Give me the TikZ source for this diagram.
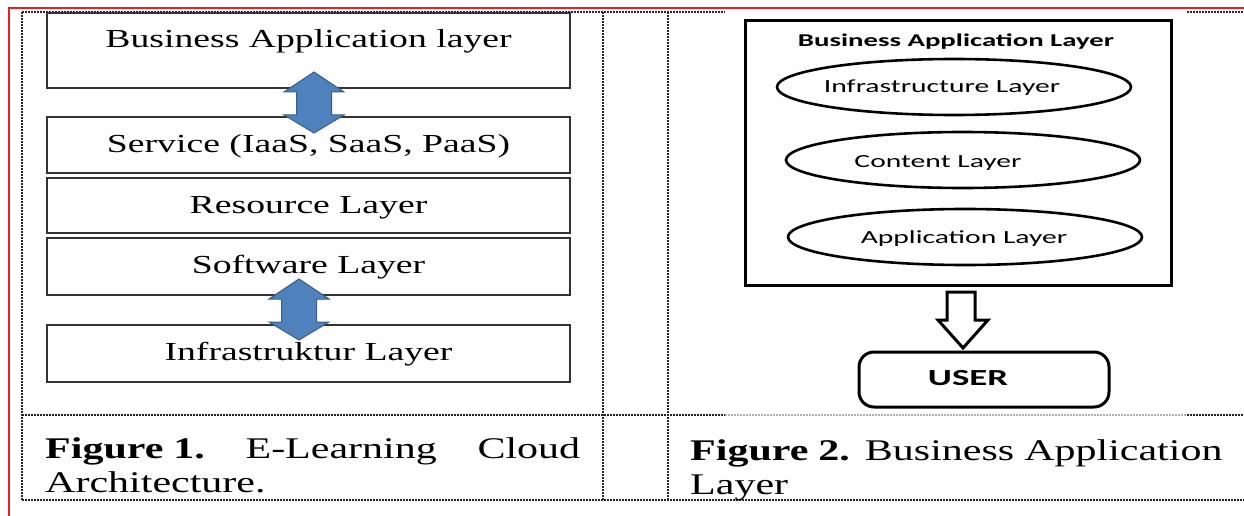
\documentclass[tikz,border=0pt]{standalone}
\usepackage{fontspec}
\setmainfont{Liberation Serif}
\newfontfamily\boxfont{Liberation Serif}[FakeStretch=1.45]
\newfontfamily\capfont{Liberation Serif}[FakeStretch=1.4]
\newfontfamily\sfont{Carlito}[FakeStretch=1.6]
\usetikzlibrary{shapes.geometric}
\definecolor{arrowblue}{RGB}{79,129,189}
\definecolor{arrowedge}{RGB}{56,93,138}
\definecolor{redline}{RGB}{237,28,36}
\begin{document}
\begin{tikzpicture}[x=1pt,y=-1pt,
  lbox/.style={draw=black!80, line width=2pt, minimum width=523pt, inner sep=0pt},
  ltext/.style={font=\boxfont\fontsize{26}{28}\selectfont, inner sep=0pt},
  gridline/.style={densely dotted, line width=2pt, black!85},
  blockarrow/.style={fill=arrowblue, draw=arrowedge, line width=1pt, line join=miter},
  ell/.style={ellipse, draw, line width=2.6pt, minimum width=354pt, minimum height=56pt, inner sep=0pt},
  stext/.style={font=\sfont\fontsize{18.5}{20}\selectfont, inner sep=0pt},
  captext/.style={font=\capfont\fontsize{30}{34}\selectfont, inner sep=0pt, anchor=base west, text width=535pt, align=left}]
\useasboundingbox (0,0) rectangle (1244,516);
\fill[white] (0,0) rectangle (1244,516);
% red page frame
\draw[redline, line width=2.4pt] (9,516) -- (9,8) -- (1244,8);
% dotted table grid
\draw[gridline] (22,12) -- (725,12);
\draw[gridline] (1187,12) -- (1244,12);
\draw[gridline] (22,12) -- (22,500);
\draw[gridline] (603,12) -- (603,500);
\draw[gridline] (668,12) -- (668,500);
\draw[gridline] (22,415) -- (725,415);
\draw[gridline, black!30] (725,415) -- (1187,415);
\draw[gridline] (1187,415) -- (1244,415);
\draw[gridline] (22,500) -- (1244,500);
% Figure 1 boxes
\node[lbox, fill=white, minimum height=75pt] (b1) at (308.5,50.5) {};
\node[ltext] (t1) at (308.5,41) {Business Application layer};
\node[lbox, minimum height=56pt] (b2) at (308.5,145) {};
\node[ltext] (t2) at (308.5,146) {Service (IaaS, SaaS, PaaS)};
\node[lbox, minimum height=55pt] (b3) at (308.5,205.5) {};
\node[ltext] (t3) at (308.5,208) {Resource Layer};
\node[lbox, minimum height=57pt] (b4) at (308.5,266.5) {};
\node[ltext] (t4) at (308.5,267.5) {Software Layer};
\node[lbox, minimum height=57pt] (b5) at (308.5,353.5) {};
\node[ltext] (t5) at (308.5,354.5) {Infrastruktur Layer};
% double block arrows
\draw[blockarrow] (314,72) -- (344,92) -- (331.5,92) -- (331.5,115) -- (344,115) -- (314,133)
  -- (284,115) -- (296.5,115) -- (296.5,92) -- (284,92) -- cycle;
\draw[blockarrow] (299,279) -- (329,299) -- (316.5,299) -- (316.5,322) -- (329,322) -- (299,340)
  -- (269,322) -- (281.5,322) -- (281.5,299) -- (269,299) -- cycle;
% caption 1
\node[captext] (cap1) at (45,458) {\textbf{Figure 1.}\hfill E-Learning\hfill Cloud\\Architecture.};
% Figure 2
\node[draw, line width=3pt, minimum width=426pt, minimum height=264pt, inner sep=0pt] (bal) at (958,153) {};
\node[stext, font=\sfont\bfseries\fontsize{18}{20}\selectfont] (balt) at (956,42) {Business Application Layer};
\node[ell] (e1) at (954,87) {};
\node[stext] (e1t) at (942,88) {Infrastructure Layer};
\node[ell] (e2) at (963,160) {};
\node[stext] (e2t) at (938,163) {Content Layer};
\node[ell] (e3) at (965,237) {};
\node[stext] (e3t) at (964,239) {Application Layer};
\draw[line width=3pt, line join=miter] (947,292) -- (975,292) -- (975,320) -- (988,320) -- (963,348)
  -- (938,320) -- (947,320) -- cycle;
\node[draw, line width=3pt, rounded corners=15pt, minimum width=250pt, minimum height=55pt, inner sep=0pt] (user) at (984,379.5) {};
\node[stext, font=\sfont\bfseries\fontsize{23}{25}\selectfont] (usert) at (968,378) {USER};
% caption 2
\node[captext] (cap2) at (690,460) {\textbf{Figure 2.} Business Application\\Layer};
\end{tikzpicture}
\end{document}
